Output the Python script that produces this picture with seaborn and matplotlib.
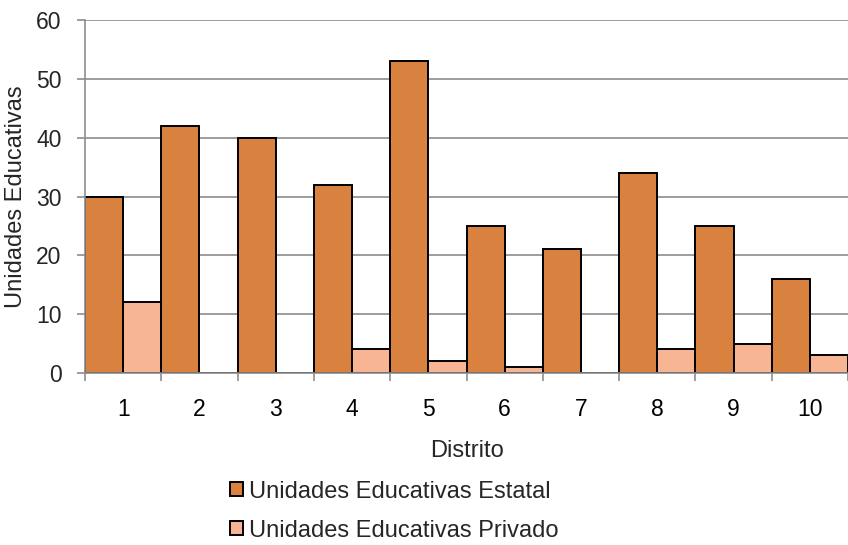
import matplotlib
matplotlib.use("Agg")
import matplotlib.pyplot as plt
import seaborn as sns
import pandas as pd
from matplotlib.ticker import FixedLocator, MultipleLocator

distritos = ["1", "2", "3", "4", "5", "6", "7", "8", "9", "10"]
estatal = [30, 42, 40, 32, 53, 25, 21, 34, 25, 16]
privado = [12, 0, 0, 4, 2, 1, 0, 4, 5, 3]
series = ["Unidades Educativas Estatal", "Unidades Educativas Privado"]
colors = ["#D9823F", "#F8B593"]

df = pd.DataFrame({
    "Distrito": distritos * 2,
    "valor": estatal + privado,
    "serie": [series[0]] * len(distritos) + [series[1]] * len(distritos),
})

sns.set_style("white")
plt.rcParams["font.family"] = ["Liberation Sans", "DejaVu Sans"]

fig = plt.figure(figsize=(8.48, 5.45), dpi=100)
ax = fig.add_axes([85 / 848, 1 - 373 / 545, 1 - 85 / 848, (373 - 20) / 545])

sns.barplot(data=df, x="Distrito", y="valor", hue="serie", order=distritos,
            hue_order=series, palette=colors, width=1.0, gap=0,
            edgecolor="black", linewidth=1.4, saturation=1, ax=ax, legend=True)

ax.set_xlim(-0.5, len(distritos) - 0.5)
ax.set_ylim(0, 60)
ax.yaxis.set_major_locator(MultipleLocator(10))
ax.grid(axis="y", color="#8C8C8C", linewidth=1.2)
ax.set_axisbelow(True)

for s in ["top", "right"]:
    ax.spines[s].set_visible(False)
for s in ["left", "bottom"]:
    ax.spines[s].set_color("#8C8C8C")
    ax.spines[s].set_linewidth(1.2)

ax.xaxis.set_minor_locator(FixedLocator([i - 0.5 for i in range(len(distritos) + 1)]))
ax.tick_params(axis="x", which="major", length=0, labelsize=16.5, pad=18, colors="black")
ax.tick_params(axis="x", which="minor", length=6, width=1.2, color="#8C8C8C", direction="out", bottom=True)
ax.tick_params(axis="y", which="major", length=6, width=1.2, color="#8C8C8C", labelsize=16.5,
               pad=11, left=True, direction="out")

ax.set_xlabel("Distrito", fontsize=17, labelpad=14)
ax.set_ylabel("Unidades Educativas", fontsize=17)
ax.yaxis.set_label_coords(-0.076, 0.5)

leg = ax.get_legend()
leg.remove()
handles, labels = ax.get_legend_handles_labels()
fig.legend(handles[:2], labels[:2], loc="center", bbox_to_anchor=(0.465, 0.062),
           frameon=False, fontsize=17, ncol=1, handlelength=0.55, handleheight=0.55,
           handletextpad=0.25, labelspacing=0.72, borderaxespad=0)

fig.savefig("out.png", dpi=100)
